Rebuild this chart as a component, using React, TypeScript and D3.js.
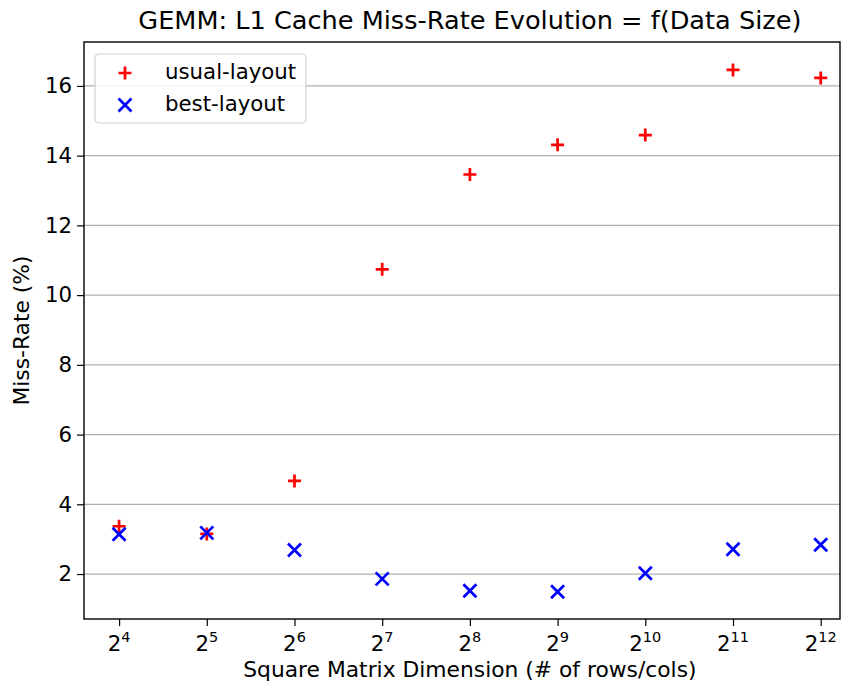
import React, { useEffect, useRef } from 'react';
import * as d3 from 'd3';

// exponents of 2 for the matrix dimension
const exponents = [4, 5, 6, 7, 8, 9, 10, 11, 12];
const usualLayout = [3.37, 3.15, 4.67, 10.74, 13.46, 14.31, 14.59, 16.46, 16.23];
const bestLayout = [3.14, 3.18, 2.69, 1.86, 1.52, 1.49, 2.02, 2.71, 2.84];
const yTicks = [2, 4, 6, 8, 10, 12, 14, 16];

const W = 848;
const H = 684;
const m = { left: 84, right: 8, top: 42, bottom: 65 };

const App = () => {
  const ref = useRef<SVGSVGElement | null>(null);

  useEffect(() => {
    if (!ref.current) return;
    const svg = d3.select(ref.current);
    svg.selectAll('*').remove();
    const font = 'DejaVu Sans, sans-serif';
    const fs = 21.3;

    const x = d3.scaleLinear().domain([3.6, 12.22]).range([m.left, W - m.right]);
    const y = d3.scaleLinear().domain([0.71, 17.26]).range([H - m.bottom, m.top]);
    const cx = (x(4) + x(12)) / 2;

    // horizontal grid
    svg.append('g')
      .selectAll('line')
      .data(yTicks)
      .enter()
      .append('line')
      .attr('x1', m.left).attr('x2', W - m.right)
      .attr('y1', (d) => y(d)).attr('y2', (d) => y(d))
      .attr('stroke', '#b0b0b0').attr('stroke-width', 1.2);

    // axes
    const yAxis = svg.append('g')
      .attr('transform', `translate(${m.left},0)`)
      .call(d3.axisLeft(y).tickValues(yTicks).tickSize(7).tickPadding(5).tickFormat(d3.format('d')));
    yAxis.select('.domain').remove();
    yAxis.selectAll('text').attr('font-family', font).attr('font-size', fs).attr('fill', '#000');
    yAxis.selectAll('line').attr('stroke', '#000').attr('stroke-width', 1.2);

    const xAxis = svg.append('g')
      .attr('transform', `translate(0,${H - m.bottom})`)
      .call(d3.axisBottom(x).tickValues(exponents).tickSize(7).tickFormat(() => ''));
    xAxis.select('.domain').remove();
    xAxis.selectAll('line').attr('stroke', '#000').attr('stroke-width', 1.2);

    const lbl = svg.append('g').selectAll('text')
      .data(exponents).enter().append('text')
      .attr('x', (d) => x(d))
      .attr('y', H - m.bottom + 32)
      .attr('text-anchor', 'middle')
      .attr('font-family', font).attr('font-size', fs).attr('fill', '#000');
    lbl.append('tspan').text('2');
    lbl.append('tspan').attr('dy', -9).attr('font-size', 14.5).text((d) => String(d));

    // frame
    svg.append('rect')
      .attr('x', m.left).attr('y', m.top)
      .attr('width', W - m.right - m.left).attr('height', H - m.bottom - m.top)
      .attr('fill', 'none').attr('stroke', '#000').attr('stroke-width', 1.4);

    const s = 6.5;
    // usual-layout markers (+)
    svg.append('g').selectAll('path')
      .data(exponents.map((e, i) => [e, usualLayout[i]]))
      .enter().append('path')
      .attr('d', (d) => `M${x(d[0]) - s},${y(d[1])}H${x(d[0]) + s}M${x(d[0])},${y(d[1]) - s}V${y(d[1]) + s}`)
      .attr('stroke', '#ff0000').attr('stroke-width', 2.7).attr('fill', 'none');

    // best-layout markers (x)
    const t = 6.5;
    svg.append('g').selectAll('path')
      .data(exponents.map((e, i) => [e, bestLayout[i]]))
      .enter().append('path')
      .attr('d', (d) => `M${x(d[0]) - t},${y(d[1]) - t}L${x(d[0]) + t},${y(d[1]) + t}M${x(d[0]) - t},${y(d[1]) + t}L${x(d[0]) + t},${y(d[1]) - t}`)
      .attr('stroke', '#0000ff').attr('stroke-width', 2.7).attr('fill', 'none');

    // title and axis labels
    svg.append('text')
      .attr('x', cx).attr('y', 29)
      .attr('text-anchor', 'middle')
      .attr('font-family', font).attr('font-size', 25.6).attr('fill', '#000')
      .text('GEMM: L1 Cache Miss-Rate Evolution = f(Data Size)');
    svg.append('text')
      .attr('x', cx).attr('y', H - 7)
      .attr('text-anchor', 'middle')
      .attr('font-family', font).attr('font-size', 21.8).attr('fill', '#000')
      .text('Square Matrix Dimension (# of rows/cols)');
    svg.append('text')
      .attr('transform', `translate(29,${(m.top + H - m.bottom) / 2}) rotate(-90)`)
      .attr('text-anchor', 'middle')
      .attr('font-family', font).attr('font-size', 21.8).attr('fill', '#000')
      .text('Miss-Rate (%)');

    // legend
    const lg = svg.append('g').attr('transform', 'translate(95,54)');
    lg.append('rect')
      .attr('width', 211).attr('height', 69).attr('rx', 4)
      .attr('fill', 'rgba(255,255,255,0.8)').attr('stroke', '#d0d0d0').attr('stroke-width', 1.2);
    lg.append('path')
      .attr('d', `M${30 - s},19H${30 + s}M30,${19 - s}V${19 + s}`)
      .attr('stroke', '#ff0000').attr('stroke-width', 2.7);
    lg.append('path')
      .attr('d', `M${30 - t},${51 - t}L${30 + t},${51 + t}M${30 - t},${51 + t}L${30 + t},${51 - t}`)
      .attr('stroke', '#0000ff').attr('stroke-width', 2.7);
    lg.append('text').attr('x', 70).attr('y', 25)
      .attr('font-family', font).attr('font-size', fs).attr('fill', '#000').text('usual-layout');
    lg.append('text').attr('x', 70).attr('y', 57)
      .attr('font-family', font).attr('font-size', fs).attr('fill', '#000').text('best-layout');
  }, []);

  return (
    <svg ref={ref} width={W} height={H} style={{ position: 'absolute', left: 0, top: 0, background: '#fff' }} />
  );
};

export default App;
